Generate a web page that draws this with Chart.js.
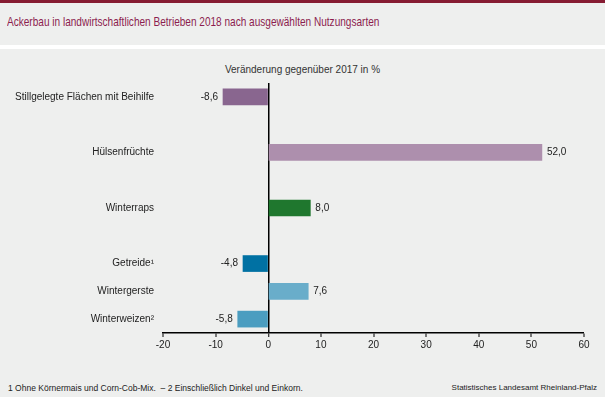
<!DOCTYPE html>
<html>
<head>
<meta charset="utf-8">
<script src="https://cdn.jsdelivr.net/npm/chart.js@4"></script>
<style>
  html, body { margin: 0; padding: 0; }
  body { width: 605px; height: 397px; position: relative; background: #eeefee; overflow: hidden;
         font-family: 'Liberation Sans', Arial, sans-serif; }
  #topline { position: absolute; left: 0; top: 0; width: 605px; height: 3px; background: #861c32; }
  #gap { position: absolute; left: 0; top: 45px; width: 605px; height: 4px; background: #ffffff; }
  #title { position: absolute; left: 7px; top: 14px; font-size: 13.5px; color: #8c1d4f; white-space: nowrap;
           transform: scaleX(0.745); transform-origin: 0 0; }
  #sub { position: absolute; left: 0; width: 605px; top: 64px; text-align: center; font-size: 10px; color: #333; }
  #foot1 { position: absolute; left: 8px; top: 383px; font-size: 8.5px; color: #222; }
  #foot2 { position: absolute; right: 8px; top: 383px; font-size: 8px; color: #222; }
  #wrap { position: absolute; left: 0; top: 0; width: 605px; height: 397px; }
</style>
</head>
<body>
<div id="topline"></div>
<div id="gap"></div>
<div id="title">Ackerbau in landwirtschaftlichen Betrieben 2018 nach ausgewählten Nutzungsarten</div>
<div id="sub">Veränderung gegenüber 2017 in %</div>
<div id="foot1">1 Ohne Körnermais und Corn-Cob-Mix. &nbsp;– 2 Einschließlich Dinkel und Einkorn.</div>
<div id="foot2">Statistisches Landesamt Rheinland-Pfalz</div>
<div id="wrap"><canvas id="chart" width="605" height="397"></canvas></div>
<script>
// empty strings are spacer rows, as in the original layout
const kategorien = ['Stillgelegte Flächen mit Beihilfe', '', 'Hülsenfrüchte', '', 'Winterraps', '', 'Getreide¹', 'Wintergerste', 'Winterweizen²']
const veraenderung = [-8.6, null, 52.0, null, 8.0, null, -4.8, 7.6, -5.8]
const xTicks = [-20, -10, 0, 10, 20, 30, 40, 50, 60]

const farben = ['#89668f', null, '#ad8fad', null, '#1f772e', null, '#0071a3', '#69adca', '#4b9dc0']

const wertLabels = {
  id: 'wertLabels',
  afterDatasetsDraw(chart) {
    const ctx = chart.ctx
    const meta = chart.getDatasetMeta(0)
    ctx.save()
    ctx.font = '10px "Liberation Sans", Arial, sans-serif'
    ctx.fillStyle = '#222'
    ctx.textBaseline = 'middle'
    meta.data.forEach((bar, i) => {
      const v = veraenderung[i]
      if (v === null) return
      const txt = v.toFixed(1).replace('.', ',')
      if (v < 0) {
        ctx.textAlign = 'right'
        ctx.fillText(txt, bar.x - 5, bar.y)
      } else {
        ctx.textAlign = 'left'
        ctx.fillText(txt, bar.x + 5, bar.y)
      }
    })
    ctx.restore()
  }
}

const chart = new Chart(document.getElementById('chart'), {
  type: 'bar',
  data: {
    labels: kategorien,
    datasets: [{
      data: veraenderung,
      backgroundColor: farben,
      barThickness: 16,
      borderWidth: 0
    }]
  },
  options: {
    indexAxis: 'y',
    responsive: false,
    animation: false,
    layout: { padding: { top: 83, right: 21, left: 0, bottom: 0 } },
    plugins: { legend: { display: false }, tooltip: { enabled: false } },
    scales: {
      x: {
        min: -20,
        max: 60,
        afterBuildTicks: (s) => { s.ticks = xTicks.map(v => ({ value: v })) },
        afterFit: (s) => { s.height = 397 - 333 },
        border: { display: true, color: '#000', width: 1.5 },
        grid: {
          drawOnChartArea: true,
          color: (c) => c.tick && c.tick.value === 0 ? '#000' : 'rgba(0,0,0,0)',
          lineWidth: (c) => c.tick && c.tick.value === 0 ? 1.5 : 0,
          tickColor: '#000',
          tickLength: 4,
          tickWidth: 1
        },
        ticks: {
          padding: 2,
          color: '#222',
          font: { family: '"Liberation Sans", Arial, sans-serif', size: 10 }
        }
      },
      y: {
        afterFit: (s) => { s.width = 163 },
        border: { display: false },
        grid: { display: false },
        ticks: {
          padding: 1,
          color: '#222',
          autoSkip: false,
          font: { family: '"Liberation Sans", Arial, sans-serif', size: 10 }
        }
      }
    }
  },
  plugins: [wertLabels]
})
</script>
</body>
</html>
